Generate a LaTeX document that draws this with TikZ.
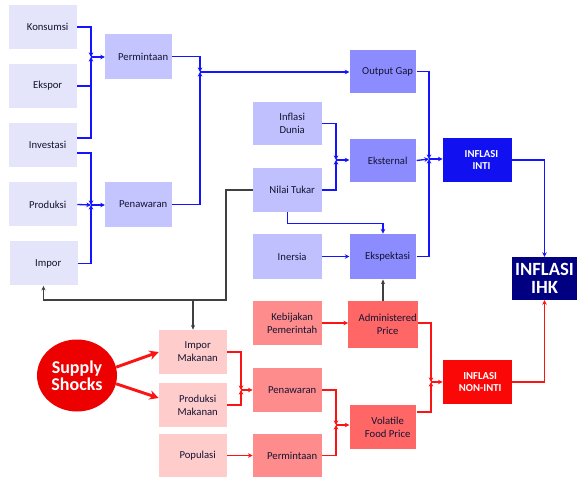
\documentclass[tikz,border=0pt]{standalone}
\usepackage{fontspec}
\setmainfont{Carlito}
\usetikzlibrary{arrows.meta,shapes.geometric}
\definecolor{cLav}{RGB}{228,228,250}
\definecolor{cPer}{RGB}{196,196,255}
\definecolor{cMid}{RGB}{192,192,255}
\definecolor{cDark}{RGB}{140,140,255}
\definecolor{cInti}{RGB}{16,16,240}
\definecolor{cIHK}{RGB}{0,0,128}
\definecolor{cPink}{RGB}{255,204,204}
\definecolor{cSalmon}{RGB}{255,140,140}
\definecolor{cRose}{RGB}{255,102,102}
\definecolor{cNon}{RGB}{250,8,8}
\definecolor{cSS}{RGB}{236,0,0}
\definecolor{cBlue}{RGB}{20,20,255}
\definecolor{cRed}{RGB}{250,20,20}
\definecolor{cTxt}{RGB}{20,20,50}
\begin{document}
\begin{tikzpicture}[x=0.75pt,y=-0.75pt,
  box/.style={rectangle,inner sep=1pt,minimum width=51pt,minimum height=33pt},
  lb/.style={align=center,text=cTxt,inner sep=0pt,xshift=3.5pt,
    font=\fontsize{8}{9.75}\selectfont},
  lw/.style={align=center,text=white,inner sep=0pt,xshift=3pt,
    font=\bfseries\fontsize{8}{9.5}\selectfont},
  bl/.style={draw=cBlue,line width=1pt,-{Stealth[length=3.5pt,width=3.5pt]}},
  rd/.style={draw=cRed,line width=0.8pt,-{Stealth[length=3.5pt,width=3.5pt]}},
  gr/.style={draw=black!75,line width=0.8pt,-{Stealth[length=3.5pt,width=3pt]}},
  thk/.style={draw=cRed,line width=2.2pt,-{Stealth[length=7pt,width=7pt]}}]
\useasboundingbox (0,0) rectangle (578,477);
% left column
\node[box,fill=cLav,label={[lb]center:Konsumsi}] (Konsumsi) at (43,27) {};
\node[box,fill=cLav,label={[lb]center:Ekspor}] (Ekspor) at (43,86) {};
\node[box,fill=cLav,label={[lb]center:Investasi}] (Investasi) at (43,145) {};
\node[box,fill=cLav,label={[lb]center:Produksi}] (Produksi) at (43,204.5) {};
\node[box,fill=cLav,label={[lb]center:Impor}] (Impor) at (43.5,263.5) {};
\node[box,fill=cPer,minimum width=50pt,minimum height=34pt,label={[lb]center:Permintaan}] (Permintaan) at (138.5,56.5) {};
\node[box,fill=cPer,minimum width=50pt,minimum height=34pt,label={[lb]center:Penawaran}] (Penawaran) at (138.5,204.5) {};
% middle blue
\node[box,fill=cMid,minimum width=52pt,minimum height=32pt,label={[lb]center:Inflasi\\Dunia}] (Dunia) at (287.5,123.5) {};
\node[box,fill=cMid,minimum width=52pt,minimum height=33pt,label={[lb]center:Nilai Tukar}] (Tukar) at (287.5,190) {};
\node[box,fill=cMid,minimum width=52pt,minimum height=34pt,label={[lb]center:Inersia}] (Inersia) at (287.5,256.5) {};
\node[box,fill=cDark,minimum width=50pt,minimum height=32pt,label={[lb]center:Output Gap}] (Output) at (383,71.5) {};
\node[box,fill=cDark,minimum width=50pt,minimum height=32pt,label={[lb]center:Eksternal}] (Eksternal) at (383,160.5) {};
\node[box,fill=cDark,minimum width=50pt,minimum height=34pt,label={[lb]center:Ekspektasi}] (Ekspektasi) at (383,256.5) {};
\node[box,fill=cInti,minimum width=52pt,minimum height=33pt,label={[lw]center:INFLASI\\INTI}] (Inti) at (477.5,160) {};
\node[box,fill=cIHK,text=white,align=center,font=\bfseries\fontsize{14}{13}\selectfont,minimum width=49pt,minimum height=32pt] (IHK) at (544.5,278.5) {INFLASI\\IHK};
% red section
\node[ellipse,fill=cSS,text=white,align=center,font=\bfseries\fontsize{13.5}{11.5}\selectfont,minimum width=60pt,minimum height=54pt,inner sep=0pt] (SS) at (77,375.5) {Supply\\Shocks};
\node[box,fill=cPink,label={[lb]center:Impor\\Makanan}] (ImporM) at (193,352) {};
\node[box,fill=cPink,label={[lb]center:Produksi\\Makanan}] (ProdM) at (193,405) {};
\node[box,fill=cPink,minimum height=32pt,label={[lb]center:Populasi}] (Populasi) at (193,455.5) {};
\node[box,fill=cSalmon,minimum width=52pt,label={[lb]center:Kebijakan\\Pemerintah}] (Kebijakan) at (287.5,323) {};
\node[box,fill=cSalmon,minimum width=52pt,label={[lb]center:Penawaran}] (PenawaranR) at (287.5,390) {};
\node[box,fill=cSalmon,minimum width=52pt,minimum height=32pt,label={[lb]center:Permintaan}] (PermintaanR) at (287.5,455.5) {};
\node[box,fill=cRose,minimum width=52pt,minimum height=35pt,label={[lb]center:Administered\\Price}] (Admin) at (383,324.5) {};
\node[box,fill=cRose,minimum width=50pt,label={[lb]center:Volatile\\Food Price}] (Volatile) at (383,427) {};
\node[box,fill=cNon,minimum width=52pt,minimum height=33pt,label={[lw,xshift=-1pt]center:INFLASI\\NON-INTI}] (NonInti) at (477.5,382) {};
% junction points
\coordinate (jP) at (91,57);
\coordinate (jS) at (91,205);
\coordinate (jO) at (200,72);
\coordinate (jE) at (336,160);
\coordinate (jI) at (429,159);
\coordinate (jR) at (241,390);
\coordinate (jV) at (336,425);
\coordinate (jN) at (431,382);
\coordinate (cG) at (226,300);
% blue connectors
\draw[bl] (Konsumsi.east) -| (jP);
\draw[bl,-] (Ekspor.east) -- (Ekspor.east -| jP);
\draw[bl] (Investasi.east |- 0,138) -| (jP);
\draw[bl] (jP) -- (Permintaan.west |- jP);
\draw[bl] (Investasi.east |- 0,153) -| (jS);
\draw[bl] (Produksi.east) -- (jS);
\draw[bl] (Impor.east) -| (jS);
\draw[bl] (jS) -- (Penawaran.west |- jS);
\draw[bl] (Permintaan.east) -| (jO);
\draw[bl] (Penawaran.east) -| (jO);
\draw[bl] (jO) -- (Output.west |- jO);
\draw[bl] (Dunia.east) -| (jE);
\draw[bl] (Tukar.east) -| (jE);
\draw[bl] (jE) -- (Eksternal.west |- jE);
\draw[bl] (Tukar.south) -- ++(0,11) -| (Ekspektasi.north);
\draw[bl] (Inersia.east) -- (Ekspektasi.west);
\draw[bl] (Output.east) -| (jI);
\draw[bl] (Ekspektasi.east) -| (jI);
\draw[bl] (Eksternal.east) -- (jI);
\draw[bl] (jI) -- (Inti.west |- jI);
\draw[bl] (Inti.east) -| (IHK.north);
% gray / black connectors
\draw[gr] (Tukar.west) -| (cG) -| (Impor.south);
\draw[gr] (ImporM.north |- cG) -- (ImporM.north);
\draw[gr] (Admin.north) -- (Ekspektasi.south);
% red connectors
\draw[thk] (SS.12) -- (ImporM.west);
\draw[thk] (SS.-12) -- ([yshift=5.25pt]ProdM.west);
\draw[rd] (ImporM.east) -| (jR);
\draw[rd] (ProdM.east) -| (jR);
\draw[rd] (jR) -- (PenawaranR.west);
\draw[rd] (Populasi.east) -- (PermintaanR.west);
\draw[rd] (Kebijakan.east) -- (Admin.west |- Kebijakan.east);
\draw[rd] (PenawaranR.east) -| (jV);
\draw[rd] (PermintaanR.east) -| (jV);
\draw[rd] (jV) -- (Volatile.west |- jV);
\draw[rd] (Admin.east |- 0,323) -| (jN);
\draw[rd] (Volatile.east |- 0,412) -| (jN);
\draw[rd] (jN) -- (NonInti.west);
\draw[rd] (NonInti.east) -| (IHK.south);
\end{tikzpicture}
\end{document}
